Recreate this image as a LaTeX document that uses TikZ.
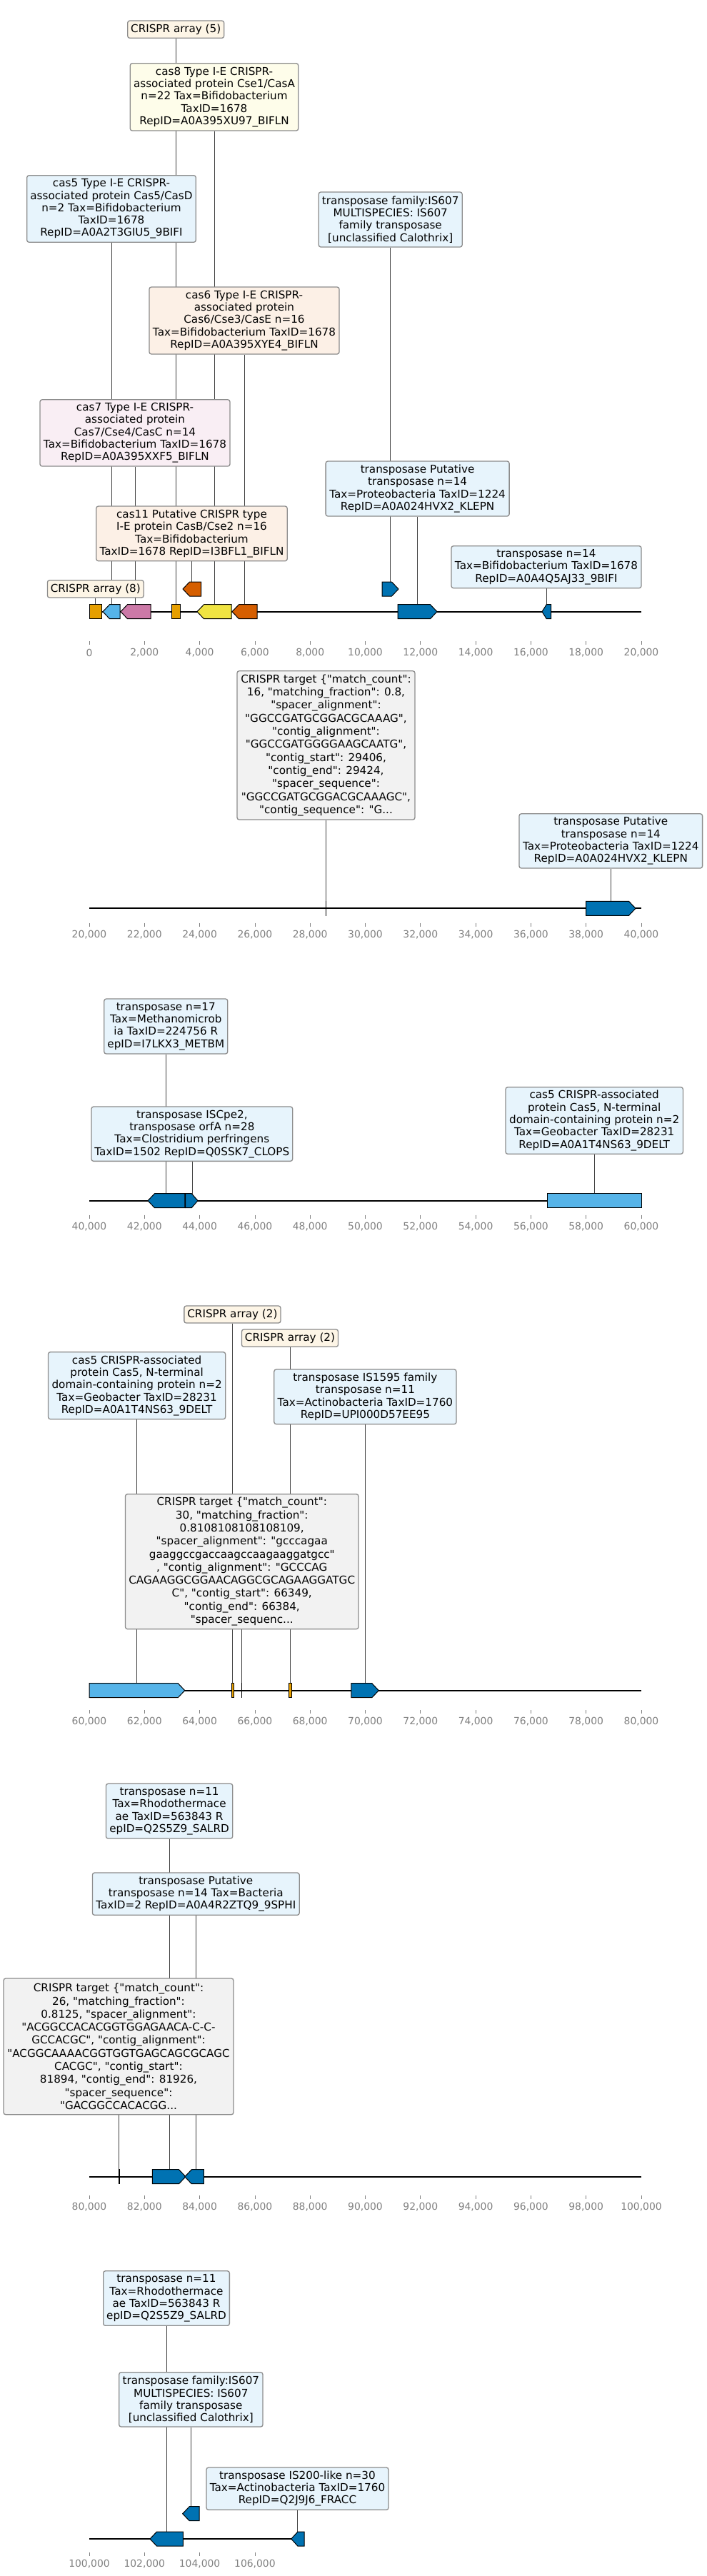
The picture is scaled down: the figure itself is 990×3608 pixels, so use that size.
\documentclass[tikz,border=0pt]{standalone}
\usepackage{fontspec}
\setmainfont{DejaVu Sans}[Ligatures=TeXOff]
\usepackage{tikz}
\usepackage{xcolor}

\definecolor{orangeC}{HTML}{E69F00}
\definecolor{skyC}{HTML}{56B4E9}
\definecolor{yellC}{HTML}{F0E442}
\definecolor{blueC}{HTML}{0072B2}
\definecolor{vermC}{HTML}{D55E00}
\definecolor{purpC}{HTML}{CC79A7}
\definecolor{boxCream}{HTML}{FDF5E6}
\definecolor{boxYell}{HTML}{FEFDEA}
\definecolor{boxBlue}{HTML}{E7F4FC}
\definecolor{boxPeach}{HTML}{FCF0E6}
\definecolor{boxPink}{HTML}{F9EEF4}
\definecolor{boxGray}{HTML}{F2F2F2}

\pgfdeclarelayer{paper}
\pgfdeclarelayer{leaders}
\pgfsetlayers{paper,leaders,main}

\tikzset{
  lbl/.style={draw=black!45,line width=1.3,rounded corners=3,align=center,inner sep=2,
    font=\fontsize{15.2}{17.3}\selectfont},
  ctlbl/.style={lbl,fill=boxGray,font=\fontsize{15.2}{18.3}\selectfont},
  leader/.style={black!75,line width=0.7},
  genedraw/.style={draw=black,line width=1},
  axtick/.style={gray,line width=0.8},
  ticklbl/.style={gray,inner sep=0,font=\fontsize{13.9}{16}\selectfont},
}

\begin{document}
\begin{tikzpicture}[x=1pt,y=-1pt]
\begin{pgfonlayer}{paper}
\fill[white](0,0) rectangle (990,3608);
\end{pgfonlayer}
\useasboundingbox (0,0) rectangle (990,3608);
% tracks: axis line, ticks and kb labels
\foreach \s/\ya/\yt/\xe/\nt in {0/856.7/898/898/10,20/1272.3/1292.7/898/10,40/1681.7/1701.7/898/10,
  60/2367.7/2395/898/10,80/3048.7/3075/898/10,100/3556/3575/426/3}{
  \draw[line width=2](125,\ya)--(\xe,\ya);
  \foreach \k in {0,...,\nt}{
    \pgfmathsetmacro\xt{125+77.3*\k}
    \pgfmathtruncatemacro\v{\s+2*\k}
    \draw[axtick](\xt,\yt)--(\xt,\yt+5);
    \node[ticklbl] (tl\s-\k) at (\xt,\yt+16) {\ifnum\v=0 0\else\v,000\fi};}
}
% genes: name/flat end/tip/centre y/colour
\foreach \n/\s/\e/\yc/\col in {gCas5a/168/144/856.7/skyC,gCas7/211/169/856.7/purpC,
  gCas8/324/276/856.7/yellC,gCas6/360/325/856.7/vermC,gCas11/281.6/256/825/vermC,
  gIs607a/535/558/825/blueC,gTpA/557/612/856.7/blueC,gTn14/771.5/759/856.7/blueC,
  gTpB/820.7/890/1272.3/blueC,
  gTn17/258.8/207/1681.7/blueC,gIsc/259.5/277/1681.7/blueC,
  gCas5c/125/258.8/2367.7/skyC,gIs1595/491.8/530.3/2367.7/blueC,
  gTn11a/213.4/260/3048.7/blueC,gTpC/285.4/258.8/3048.7/blueC,
  gTn11b/256.3/210/3556/blueC,gIs607b/279/255.7/3520.7/blueC,gIs200/426/407.8/3556/blueC}{
  \pgfmathsetmacro\hd{(\e>\s ? 1 : -1)*min(9.5,abs(\e-\s)/2)}
  \pgfmathsetmacro\xs{\e-\hd}
  \pgfmathsetmacro\xm{(\s+\e)/2}
  \filldraw[genedraw,fill=\col](\s,\yc-10)--(\xs,\yc-10)--(\e,\yc)--(\xs,\yc+10)--(\s,\yc+10)--cycle;
  \coordinate (\n) at (\xm,\yc-10);}
% blocks without an arrow head
\foreach \n/\s/\e/\yc/\col in {gCrA8/125/142.7/856.7/orangeC,gCrA5/240.5/252/856.7/orangeC,
  gCas5b/766.4/898/1681.7/skyC,gCrA2a/324/327.3/2367.7/orangeC,gCrA2b/404.3/408/2367.7/orangeC}{
  \pgfmathsetmacro\xm{(\s+\e)/2}
  \filldraw[genedraw,fill=\col](\s,\yc-10) rectangle (\e,\yc+10);
  \coordinate (\n) at (\xm,\yc-10);}
% CRISPR targets
\foreach \n/\x/\yc in {tCt1/456.4/1272.3,tCt2/338.5/2367.7,tCt3/166.7/3048.7}{
  \draw[line width=1.6](\x,\yc-10.5)--(\x,\yc+10.5);
  \coordinate (\n) at (\x,\yc-10);}
% labels, track 1
\node[lbl,fill=boxCream,minimum width=135,minimum height=24.3] (crA5) at (246.2,41.2) {CRISPR array (5)};
\node[lbl,fill=boxYell,minimum width=235.5,minimum height=94.3] (cas8) at (300,135.9)
  {cas8 Type I-E CRISPR-\\associated protein Cse1/CasA\\n=22 Tax=Bifidobacterium\\TaxID=1678\\RepID=A0A395XU97\_BIFLN};
\node[lbl,fill=boxBlue,minimum width=236.6,minimum height=93.6] (cas5a) at (156,292.5)
  {cas5 Type I-E CRISPR-\\associated protein Cas5/CasD\\n=2 Tax=Bifidobacterium\\TaxID=1678\\RepID=A0A2T3GIU5\_9BIFI};
\node[lbl,fill=boxBlue,minimum width=201,minimum height=77] (is607a) at (546.7,307.5)
  {transposase family:IS607\\MULTISPECIES: IS607\\family transposase\\{[}unclassified Calothrix{]}};
\node[lbl,fill=boxPeach,minimum width=266,minimum height=94] (cas6) at (342,449)
  {cas6 Type I-E CRISPR-\\associated protein\\Cas6/Cse3/CasE n=16\\Tax=Bifidobacterium TaxID=1678\\RepID=A0A395XYE4\_BIFLN};
\node[lbl,fill=boxPink,minimum width=266,minimum height=93.3] (cas7) at (189,606.4)
  {cas7 Type I-E CRISPR-\\associated protein\\Cas7/Cse4/CasC n=14\\Tax=Bifidobacterium TaxID=1678\\RepID=A0A395XXF5\_BIFLN};
\node[lbl,fill=boxBlue,minimum width=257,minimum height=77] (tpA) at (584.6,684.5)
  {transposase Putative\\transposase n=14\\Tax=Proteobacteria TaxID=1224\\RepID=A0A024HVX2\_KLEPN};
\node[lbl,fill=boxPeach,minimum width=267.5,minimum height=76.7] (cas11) at (268.5,747.4)
  {cas11 Putative CRISPR type\\I-E protein CasB/Cse2 n=16\\Tax=Bifidobacterium\\TaxID=1678 RepID=I3BFL1\_BIFLN};
\node[lbl,fill=boxBlue,minimum width=266,minimum height=59] (tn14) at (765,794.2)
  {transposase n=14\\Tax=Bifidobacterium TaxID=1678\\RepID=A0A4Q5AJ33\_9BIFI};
\node[lbl,fill=boxCream,minimum width=134.8,minimum height=24.3] (crA8) at (133.8,824.9) {CRISPR array (8)};
% labels, track 2
\node[ctlbl,minimum width=249,minimum height=208.3] (ct1) at (456.5,1043.9)
  {CRISPR target \{"match\_count":\\16, "matching\_fraction": 0.8,\\"spacer\_alignment":\\"GGCCGATGCGGACGCAAAG",\\"contig\_alignment":\\"GGCCGATGGGGAAGCAATG",\\"contig\_start": 29406,\\"contig\_end": 29424,\\"spacer\_sequence":\\"GGCCGATGCGGACGCAAAGC",\\"contig\_sequence": "G...};
\node[lbl,fill=boxBlue,minimum width=256.6,minimum height=76.3] (tpB) at (855.3,1177.9)
  {transposase Putative\\transposase n=14\\Tax=Proteobacteria TaxID=1224\\RepID=A0A024HVX2\_KLEPN};
% labels, track 3
\node[lbl,fill=boxBlue,minimum width=173,minimum height=77] (tn17) at (232.3,1437.5)
  {transposase n=17\\Tax=Methanomicrob\\ia TaxID=224756 R\\epID=I7LKX3\_METBM};
\node[lbl,fill=boxBlue,minimum width=281.7,minimum height=76.3] (isc) at (268.85,1588.2)
  {transposase ISCpe2,\\transposase orfA n=28\\Tax=Clostridium perfringens\\TaxID=1502 RepID=Q0SSK7\_CLOPS};
\node[lbl,fill=boxBlue,minimum width=248.4,minimum height=93.6] (cas5b) at (832.2,1569.5)
  {cas5 CRISPR-associated\\protein Cas5, N-terminal\\domain-containing protein n=2\\Tax=Geobacter TaxID=28231\\RepID=A0A1T4NS63\_9DELT};
% labels, track 4
\node[lbl,fill=boxCream,minimum width=135.1,minimum height=24] (crA2a) at (325.4,1841) {CRISPR array (2)};
\node[lbl,fill=boxCream,minimum width=135.1,minimum height=24.3] (crA2b) at (406,1874.15) {CRISPR array (2)};
\node[lbl,fill=boxBlue,minimum width=248.2,minimum height=94] (cas5c) at (191.6,1940.7)
  {cas5 CRISPR-associated\\protein Cas5, N-terminal\\domain-containing protein n=2\\Tax=Geobacter TaxID=28231\\RepID=A0A1T4NS63\_9DELT};
\node[lbl,fill=boxBlue,minimum width=255.2,minimum height=76.7] (is1595) at (511.4,1956.35)
  {transposase IS1595 family\\transposase n=11\\Tax=Actinobacteria TaxID=1760\\RepID=UPI000D57EE95};
\node[ctlbl,minimum width=326.5,minimum height=189] (ct2) at (338.75,2187.2)
  {CRISPR target \{"match\_count":\\30, "matching\_fraction":\\0.8108108108108109,\\"spacer\_alignment": "gcccagaa\\gaaggccgaccaagccaagaaggatgcc"\\, "contig\_alignment": "GCCCAG\\CAGAAGGCGGAACAGGCGCAGAAGGATGC\\C", "contig\_start": 66349,\\"contig\_end": 66384,\\"spacer\_sequenc...};
% labels, track 5
\node[lbl,fill=boxBlue,minimum width=177.4,minimum height=76.7] (tn11a) at (237.1,2536.65)
  {transposase n=11\\Tax=Rhodothermace\\ae TaxID=563843 R\\epID=Q2S5Z9\_SALRD};
\node[lbl,fill=boxBlue,minimum width=289.8,minimum height=59.3] (tpC) at (274.3,2652.65)
  {transposase Putative\\transposase n=14 Tax=Bacteria\\TaxID=2 RepID=A0A4R2ZTQ9\_9SPHI};
\node[ctlbl,minimum width=322,minimum height=190.7] (ct3) at (166,2866.35)
  {CRISPR target \{"match\_count":\\26, "matching\_fraction":\\0.8125, "spacer\_alignment":\\"ACGGCCACACGGTGGAGAACA-C-C-\\GCCACGC", "contig\_alignment":\\"ACGGCAAAACGGTGGTGAGCAGCGCAGC\\CACGC", "contig\_start":\\81894, "contig\_end": 81926,\\"spacer\_sequence":\\"GACGGCCACACGG...};
% labels, track 6
\node[lbl,fill=boxBlue,minimum width=176.7,minimum height=76.6] (tn11b) at (233,3219)
  {transposase n=11\\Tax=Rhodothermace\\ae TaxID=563843 R\\epID=Q2S5Z9\_SALRD};
\node[lbl,fill=boxBlue,minimum width=201.3,minimum height=76.3] (is607b) at (267.35,3360.85)
  {transposase family:IS607\\MULTISPECIES: IS607\\family transposase\\{[}unclassified Calothrix{]}};
\node[lbl,fill=boxBlue,minimum width=255,minimum height=59.3] (is200) at (416.5,3485.65)
  {transposase IS200-like n=30\\Tax=Actinobacteria TaxID=1760\\RepID=Q2J9J6\_FRACC};
% leader lines, behind the labels
\begin{pgfonlayer}{leaders}
\foreach \b/\g in {crA5/gCrA5,cas8/gCas8,cas5a/gCas5a,is607a/gIs607a,cas6/gCas6,cas7/gCas7,
  tpA/gTpA,cas11/gCas11,tn14/gTn14,crA8/gCrA8,ct1/tCt1,tpB/gTpB,tn17/gTn17,isc/gIsc,
  cas5b/gCas5b,crA2a/gCrA2a,crA2b/gCrA2b,cas5c/gCas5c,is1595/gIs1595,ct2/tCt2,
  tn11a/gTn11a,tpC/gTpC,ct3/tCt3,tn11b/gTn11b,is607b/gIs607b,is200/gIs200}{
  \draw[leader](\b.south)--(\b.south |- \g);}
\end{pgfonlayer}
\end{tikzpicture}
\end{document}
